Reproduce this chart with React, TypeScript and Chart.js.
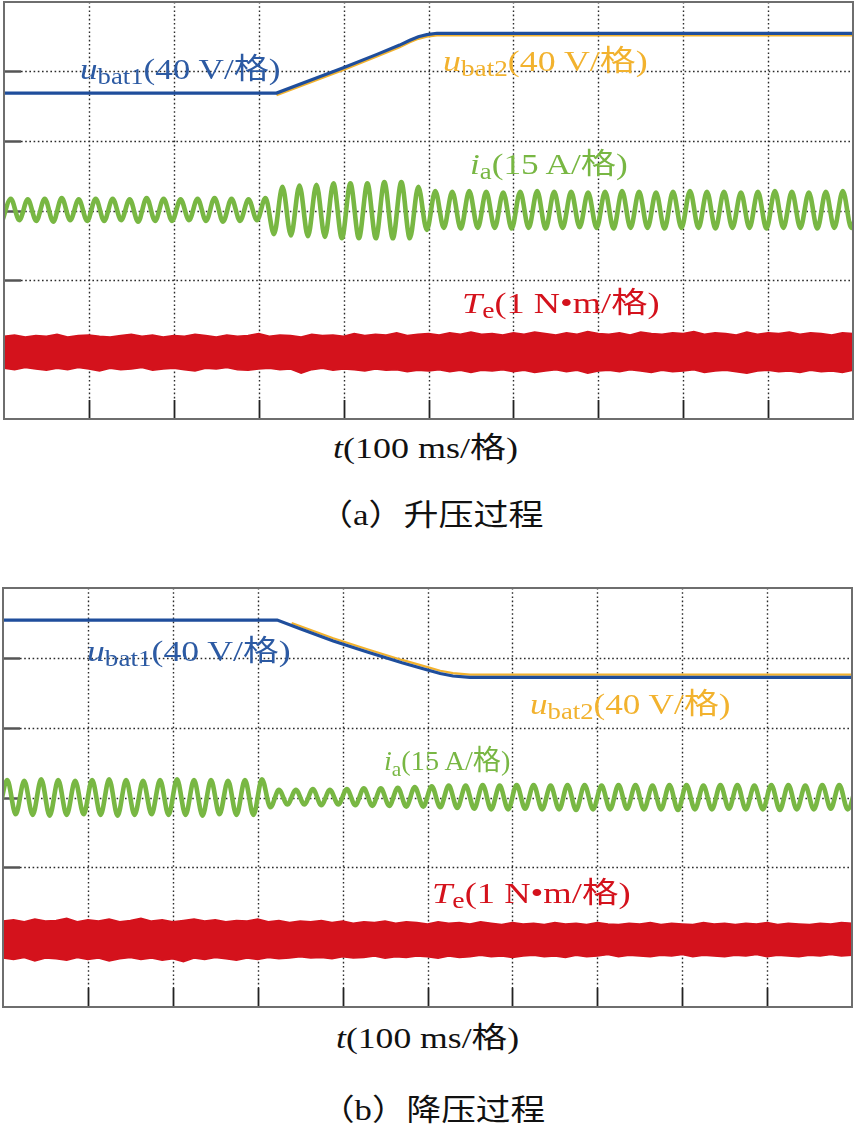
import React, { useEffect, useLayoutEffect, useRef, useState } from "react";
import { Chart, registerables } from "chart.js";

Chart.register(...registerables);

// ---------- axis grid (ms, divisions) ----------
const X_TICKS = [100, 200, 300, 400, 500, 600, 700, 800, 900];
const Y_TICKS = [1, 2, 3, 4, 5];
const T_MAX = 1000;
const DIV_MAX = 6;

// ---------- (a) boost process ----------
// u_bat1 / u_bat2 traces: [time ms, divisions]
const UBAT1_A: [number, number][] = [
  [0, 4.69], [321, 4.69], [360, 4.87], [399, 5.05], [440, 5.25], [466, 5.38], [478, 5.45], [488, 5.5], [498, 5.53], [510, 5.55], [1000, 5.55],
];
const UBAT2_A: [number, number][] = [
  [321, 4.66], [360, 4.84], [399, 5.02], [440, 5.22], [466, 5.35], [478, 5.42], [488, 5.47], [498, 5.5], [510, 5.52], [1000, 5.52],
];
// i_a successive extrema (trough, peak, ...) every half period
const IA_T0_A = -2;
const IA_HALF_A = 10;
const IA_A = [
  2.85, 3.17, 2.86, 3.16, 2.85, 3.17, 2.84, 3.18, 2.86, 3.16,
  2.85, 3.17, 2.85, 3.17, 2.86, 3.16, 2.84, 3.18, 2.85, 3.17,
  2.85, 3.16, 2.86, 3.17, 2.85, 3.18, 2.84, 3.17, 2.85, 3.16,
  2.86, 3.18, 2.66, 3.34, 2.64, 3.36, 2.63, 3.37, 2.62, 3.39,
  2.6, 3.39, 2.6, 3.39, 2.6, 3.41, 2.6, 3.41, 2.6, 3.34,
  2.72, 3.28, 2.75, 3.27, 2.74, 3.28, 2.75, 3.27, 2.75, 3.26,
  2.74, 3.27, 2.75, 3.28, 2.74, 3.27, 2.75, 3.27, 2.76, 3.26,
  2.75, 3.27, 2.74, 3.28, 2.75, 3.27, 2.75, 3.26, 2.74, 3.27,
  2.75, 3.28, 2.75, 3.27, 2.74, 3.27, 2.75, 3.26, 2.75, 3.27,
  2.74, 3.28, 2.75, 3.27, 2.75, 3.26, 2.74, 3.27, 2.75, 3.28,
  2.75, 3.27,
];
// T_e band envelopes (evenly spaced over 0..1000 ms)
const TE_UP_A = [
  1.19, 1.21, 1.18, 1.2, 1.19, 1.22, 1.18, 1.2, 1.21, 1.19,
  1.18, 1.2, 1.22, 1.19, 1.21, 1.18, 1.2, 1.19, 1.22, 1.2,
  1.18, 1.21, 1.19, 1.2, 1.23, 1.19, 1.21, 1.2, 1.18, 1.22,
  1.2, 1.21, 1.19, 1.23, 1.2, 1.22, 1.21, 1.24, 1.2, 1.22,
  1.23, 1.21, 1.24, 1.22, 1.25, 1.22, 1.23, 1.21, 1.24, 1.22,
  1.25, 1.23, 1.21, 1.24, 1.22, 1.26, 1.23, 1.22, 1.24, 1.21,
  1.25, 1.23, 1.22, 1.24, 1.23, 1.26, 1.22, 1.24, 1.23, 1.21,
  1.25, 1.22, 1.24, 1.23, 1.25, 1.22, 1.24, 1.23, 1.21, 1.24,
  1.23,
];
const TE_LO_A = [
  0.73, 0.71, 0.74, 0.72, 0.7, 0.73, 0.71, 0.74, 0.72, 0.69,
  0.73, 0.71, 0.72, 0.74, 0.7, 0.72, 0.73, 0.71, 0.69, 0.73,
  0.72, 0.74, 0.71, 0.7, 0.72, 0.73, 0.71, 0.72, 0.66, 0.71,
  0.73, 0.7, 0.72, 0.71, 0.69, 0.72, 0.7, 0.71, 0.68, 0.7,
  0.69, 0.71, 0.68, 0.7, 0.67, 0.7, 0.69, 0.71, 0.68, 0.7,
  0.67, 0.69, 0.71, 0.68, 0.7, 0.66, 0.69, 0.7, 0.68, 0.71,
  0.69, 0.67, 0.7, 0.68, 0.69, 0.71, 0.67, 0.69, 0.7, 0.68,
  0.66, 0.69, 0.7, 0.68, 0.69, 0.67, 0.7, 0.68, 0.69, 0.67,
  0.7,
];

// ---------- (b) buck process ----------
const UBAT1_B: [number, number][] = [
  [0, 5.54], [323, 5.54], [350, 5.415], [389, 5.24], [430, 5.08], [470, 4.93], [499, 4.83], [515, 4.775], [530, 4.74], [550, 4.72], [1000, 4.72],
];
const UBAT2_B: [number, number][] = [
  [340, 5.5], [389, 5.28], [430, 5.12], [470, 4.97], [499, 4.87], [515, 4.815], [530, 4.78], [550, 4.76], [1000, 4.76],
];
const IA_T0_B = -5;
const IA_HALF_B = 10;
const IA_B = [
  2.75, 3.25, 2.76, 3.24, 2.75, 3.26, 2.74, 3.25, 2.75, 3.24,
  2.76, 3.25, 2.75, 3.26, 2.74, 3.25, 2.75, 3.24, 2.76, 3.25,
  2.75, 3.26, 2.75, 3.25, 2.74, 3.25, 2.76, 3.24, 2.75, 3.25,
  2.75, 3.26, 2.86, 3.11, 2.9, 3.11, 2.9, 3.12, 2.89, 3.11,
  2.9, 3.12, 2.89, 3.13, 2.88, 3.13, 2.88, 3.14, 2.87, 3.15,
  2.87, 3.16, 2.86, 3.17, 2.85, 3.17, 2.84, 3.18, 2.83, 3.17,
  2.83, 3.18, 2.84, 3.18, 2.83, 3.17, 2.83, 3.18, 2.82, 3.18,
  2.83, 3.17, 2.83, 3.18, 2.84, 3.18, 2.83, 3.17, 2.83, 3.18,
  2.82, 3.18, 2.83, 3.17, 2.83, 3.18, 2.84, 3.18, 2.83, 3.17,
  2.83, 3.18, 2.82, 3.18, 2.83, 3.17, 2.83, 3.18, 2.84, 3.18,
  2.83, 3.17,
];
const TE_UP_B = [
  1.23, 1.25, 1.22, 1.26, 1.23, 1.24, 1.27, 1.22, 1.25, 1.23,
  1.26, 1.22, 1.24, 1.27, 1.23, 1.25, 1.22, 1.24, 1.26, 1.23,
  1.25, 1.22, 1.24, 1.23, 1.26, 1.22, 1.24, 1.21, 1.23, 1.22,
  1.24, 1.21, 1.23, 1.2, 1.22, 1.21, 1.23, 1.2, 1.22, 1.21,
  1.19, 1.22, 1.2, 1.21, 1.19, 1.22, 1.2, 1.18, 1.21, 1.19,
  1.2, 1.18, 1.21, 1.19, 1.2, 1.18, 1.21, 1.19, 1.18, 1.2,
  1.19, 1.21, 1.18, 1.2, 1.19, 1.18, 1.21, 1.19, 1.2, 1.18,
  1.2, 1.19, 1.21, 1.18, 1.2, 1.19, 1.18, 1.2, 1.19, 1.21,
  1.2,
];
const TE_LO_B = [
  0.7, 0.68, 0.71, 0.66, 0.7, 0.69, 0.67, 0.71, 0.68, 0.7,
  0.66, 0.69, 0.71, 0.68, 0.7, 0.67, 0.69, 0.65, 0.7, 0.68,
  0.71, 0.69, 0.67, 0.7, 0.68, 0.71, 0.69, 0.7, 0.72, 0.7,
  0.71, 0.69, 0.72, 0.7, 0.71, 0.73, 0.7, 0.72, 0.71, 0.73,
  0.72, 0.7, 0.73, 0.71, 0.72, 0.74, 0.72, 0.73, 0.71, 0.73,
  0.74, 0.72, 0.73, 0.71, 0.74, 0.72, 0.73, 0.75, 0.72, 0.74,
  0.73, 0.72, 0.74, 0.73, 0.75, 0.72, 0.74, 0.73, 0.72, 0.74,
  0.73, 0.75, 0.72, 0.74, 0.73, 0.72, 0.74, 0.73, 0.75, 0.73,
  0.74,
];

// ---------- colours ----------
const BLUE = "#1f4e9c";
const BLUE_TXT = "#2c5aa3";
const ORANGE = "#f2b22e";
const GREEN = "#78b743";
const RED = "#d4121c";
const SERIF = "'Liberation Serif', 'Times New Roman', 'Noto Sans CJK SC', serif";
const CJK = "'Liberation Serif', 'Noto Sans CJK SC', serif";

type Pair = [number, number][];
interface Panel {
  ubat1: Pair;
  ubat2: Pair;
  iaT0: number;
  iaHalf: number;
  ia: number[];
  teUp: number[];
  teLo: number[];
}

const scopeGrid = {
  id: "scopeGrid",
  beforeDatasetsDraw(chart: any) {
    const { ctx, chartArea, scales } = chart;
    const { left, right, top, bottom } = chartArea;
    const x = scales.x;
    const y = scales.y;
    ctx.save();
    ctx.setLineDash([1.6, 2.6]);
    ctx.lineWidth = 1.4;
    ctx.strokeStyle = "#2a2a2a";
    ctx.beginPath();
    for (const t of X_TICKS) {
      const px = Math.round(x.getPixelForValue(t)) + 0.5;
      ctx.moveTo(px, top);
      ctx.lineTo(px, bottom - 19);
    }
    for (const v of Y_TICKS) {
      const py = Math.round(y.getPixelForValue(v)) + 0.5;
      ctx.moveTo(left + 17, py);
      ctx.lineTo(right, py);
    }
    ctx.stroke();
    ctx.setLineDash([]);
    ctx.lineWidth = 2.6;
    ctx.strokeStyle = "#555";
    ctx.beginPath();
    for (const v of Y_TICKS) {
      const py = Math.round(y.getPixelForValue(v)) + 0.5;
      ctx.moveTo(left, py);
      ctx.lineTo(left + 17, py);
    }
    ctx.stroke();
    ctx.lineWidth = 1.8;
    ctx.strokeStyle = "#222";
    ctx.beginPath();
    for (const t of X_TICKS) {
      const px = Math.round(x.getPixelForValue(t)) + 0.5;
      ctx.moveTo(px, bottom - 19);
      ctx.lineTo(px, bottom);
    }
    ctx.stroke();
    ctx.restore();
  },
  afterDraw(chart: any) {
    const { ctx, chartArea } = chart;
    const { left, right, top, bottom } = chartArea;
    ctx.save();
    ctx.lineWidth = 2;
    ctx.strokeStyle = "#6e6e6e";
    ctx.strokeRect(left, top, right - left, bottom - top);
    ctx.restore();
  },
};

function ScopeChart({ panel, top, height, padding }: { panel: Panel; top: number; height: number; padding: any }) {
  const ref = useRef<HTMLCanvasElement>(null);
  useEffect(() => {
    const canvas = ref.current;
    if (!canvas) return;
    const pts = (p: Pair) => p.map(([t, v]) => ({ x: t, y: v }));
    const even = (arr: number[]) => arr.map((v, i) => ({ x: (i * T_MAX) / (arr.length - 1), y: v }));
    const chart = new Chart(canvas, {
      type: "line",
      data: {
        datasets: [
          { label: "ubat1", data: pts(panel.ubat1), borderColor: BLUE, borderWidth: 3.2, pointRadius: 0, tension: 0, fill: false },
          { label: "ubat2", data: pts(panel.ubat2), borderColor: ORANGE, borderWidth: 2.2, pointRadius: 0, tension: 0, fill: false },
          {
            label: "ia",
            data: panel.ia.map((v, i) => ({ x: panel.iaT0 + i * panel.iaHalf, y: v })),
            borderColor: GREEN,
            borderWidth: 4.6,
            pointRadius: 0,
            cubicInterpolationMode: "monotone",
            fill: false,
          },
          { label: "TeUp", data: even(panel.teUp), borderColor: RED, backgroundColor: RED, borderWidth: 1.5, pointRadius: 0, tension: 0, fill: "+1" },
          { label: "TeLo", data: even(panel.teLo), borderColor: RED, borderWidth: 1.5, pointRadius: 0, tension: 0, fill: false },
        ],
      } as any,
      options: {
        animation: false,
        responsive: false,
        maintainAspectRatio: false,
        events: [],
        layout: { padding },
        scales: {
          x: { type: "linear", min: 0, max: T_MAX, display: false },
          y: { type: "linear", min: 0, max: DIV_MAX, display: false },
        },
        plugins: { legend: { display: false }, tooltip: { enabled: false } },
      } as any,
      plugins: [scopeGrid],
    });
    return () => chart.destroy();
  }, [panel]);
  return (
    <canvas
      ref={ref}
      width={855}
      height={height}
      style={{ position: "absolute", left: 0, top, width: 855, height }}
    />
  );
}

function Label({
  left,
  baseline,
  size,
  width,
  color,
  family,
  children,
}: {
  left: number;
  baseline: number;
  size: number;
  width: number;
  color: string;
  family?: string;
  children: React.ReactNode;
}) {
  const ref = useRef<HTMLDivElement>(null);
  const [sx, setSx] = useState(1);
  useLayoutEffect(() => {
    const measure = () => {
      const el = ref.current;
      if (!el) return;
      const w = el.offsetWidth;
      if (w > 0) setSx(width / w);
    };
    measure();
    if ((document as any).fonts && (document as any).fonts.ready) {
      (document as any).fonts.ready.then(measure);
    }
  }, [width]);
  return (
    <div
      ref={ref}
      style={{
        position: "absolute",
        left,
        top: baseline - size * 0.84,
        fontSize: size,
        lineHeight: `${size}px`,
        whiteSpace: "nowrap",
        color,
        fontFamily: family || SERIF,
        transform: `scaleX(${sx})`,
        transformOrigin: "left top",
        display: "inline-block",
      }}
    >
      {children}
    </div>
  );
}

const sub: React.CSSProperties = { fontSize: "0.76em", position: "relative", top: "0.26em", fontStyle: "normal" };

function Ubat({ n }: { n: string }) {
  return (
    <>
      <i>u</i>
      <span style={sub}>{"bat" + n}</span>(40 V/格)
    </>
  );
}
function Ia() {
  return (
    <>
      <i>i</i>
      <span style={sub}>a</span>(15 A/格)
    </>
  );
}
function Te() {
  return (
    <>
      <i>T</i>
      <span style={sub}>e</span>(1 N•m/格)
    </>
  );
}
function TAxis() {
  return (
    <>
      <i>t</i>(100 ms/格)
    </>
  );
}

const PANEL_A: Panel = { ubat1: UBAT1_A, ubat2: UBAT2_A, iaT0: IA_T0_A, iaHalf: IA_HALF_A, ia: IA_A, teUp: TE_UP_A, teLo: TE_LO_A };
const PANEL_B: Panel = { ubat1: UBAT1_B, ubat2: UBAT2_B, iaT0: IA_T0_B, iaHalf: IA_HALF_B, ia: IA_B, teUp: TE_UP_B, teLo: TE_LO_B };

export default function App() {
  return (
    <div style={{ position: "absolute", left: 0, top: 0, width: 855, height: 1125, background: "#fff", overflow: "hidden" }}>
      <ScopeChart panel={PANEL_A} top={0} height={430} padding={{ left: 4, top: 2, right: 2, bottom: 11 }} />
      <ScopeChart panel={PANEL_B} top={580} height={435} padding={{ left: 3, top: 8, right: 3, bottom: 8 }} />

      {/* (a) labels */}
      <Label left={80} baseline={79} size={29} width={200} color={BLUE_TXT}><Ubat n="1" /></Label>
      <Label left={443} baseline={71} size={29} width={204} color={ORANGE}><Ubat n="2" /></Label>
      <Label left={470} baseline={174} size={29} width={158} color={GREEN}><Ia /></Label>
      <Label left={462} baseline={313} size={29} width={198} color={RED}><Te /></Label>
      <Label left={333} baseline={458} size={29} width={185} color="#111"><TAxis /></Label>
      <Label left={318} baseline={525} size={30} width={225} color="#111" family={CJK}>（a）升压过程</Label>

      {/* (b) labels */}
      <Label left={87} baseline={661} size={29} width={203} color={BLUE_TXT}><Ubat n="1" /></Label>
      <Label left={530} baseline={714} size={29} width={200} color={ORANGE}><Ubat n="2" /></Label>
      <Label left={384} baseline={771} size={28} width={126} color={GREEN}><Ia /></Label>
      <Label left={432} baseline={903} size={29} width={199} color={RED}><Te /></Label>
      <Label left={336} baseline={1048} size={29} width={183} color="#111"><TAxis /></Label>
      <Label left={320} baseline={1120} size={30} width={225} color="#111" family={CJK}>（b）降压过程</Label>
    </div>
  );
}
